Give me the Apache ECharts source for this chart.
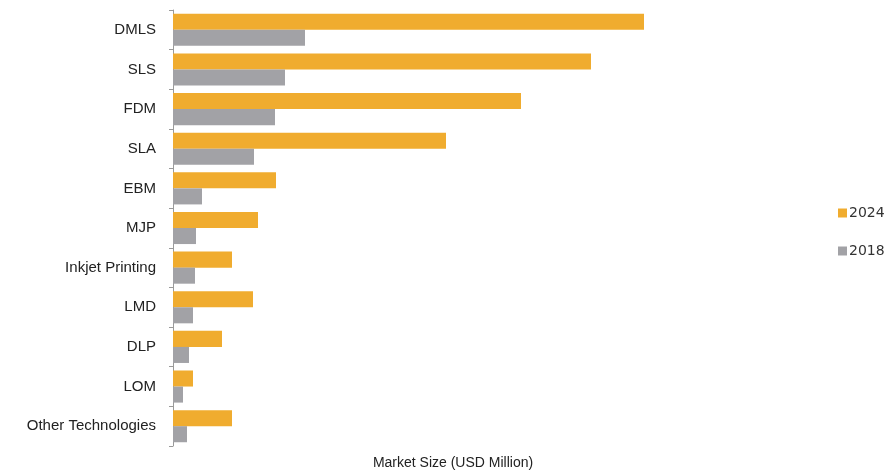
<!DOCTYPE html>
<html>
<head>
<meta charset="utf-8">
<script src="https://cdn.jsdelivr.net/npm/echarts@6/dist/echarts.min.js"></script>
<style>html,body{margin:0;padding:0;background:#fff;}#c{width:893px;height:471px;}</style>
</head>
<body>
<div id="c"></div>
<script>
const categories = ["DMLS","SLS","FDM","SLA","EBM","MJP","Inkjet Printing","LMD","DLP","LOM","Other Technologies"];
const values2024 = [4710,4180,3480,2730,1030,850,590,800,490,200,590];
const values2018 = [1320,1120,1020,810,290,230,220,200,160,100,140];
const seriesNames = ["2024","2018"];

const chart = echarts.init(document.getElementById('c'));
chart.setOption({
  animation: false,
  backgroundColor: '#fff',
  grid: {left: 173, right: 160, top: 10, bottom: 25, containLabel: false, outerBoundsMode: 'none'},
  legend: {
    orient: 'vertical', left: 833, top: 201, itemGap: 24,
    itemWidth: 9, itemHeight: 9, icon: 'rect',
    data: seriesNames,
    textStyle: {fontFamily: 'DejaVu Sans, sans-serif', fontSize: 14, color: '#333', padding: [0,0,0,-3]}
  },
  xAxis: {
    type: 'value', min: 0, max: 5600,
    axisLine: {show: false}, axisTick: {show: false}, axisLabel: {show: false}, splitLine: {show: false},
    name: 'Market Size (USD Million)', nameLocation: 'middle', nameGap: 10,
    nameTextStyle: {fontFamily: 'Liberation Sans Narrow, Arial Narrow, Liberation Sans, sans-serif', fontSize: 14, color: '#222'}
  },
  yAxis: {
    type: 'category', inverse: true, data: categories,
    axisLine: {show: true, lineStyle: {color: '#9a9a9a', width: 1}},
    axisTick: {show: true, length: 4, lineStyle: {color: '#9a9a9a'}},
    axisLabel: {margin: 17, fontFamily: 'Liberation Sans, Arial, sans-serif', fontSize: 15, color: '#222'}
  },
  series: [
    {name: seriesNames[0], type: 'bar', data: values2024, itemStyle: {color: '#F0AC2F'}, barGap: '0%', barCategoryGap: '19%'},
    {name: seriesNames[1], type: 'bar', data: values2018, itemStyle: {color: '#A2A2A6'}, barGap: '0%', barCategoryGap: '19%'}
  ]
});
</script>
</body>
</html>
